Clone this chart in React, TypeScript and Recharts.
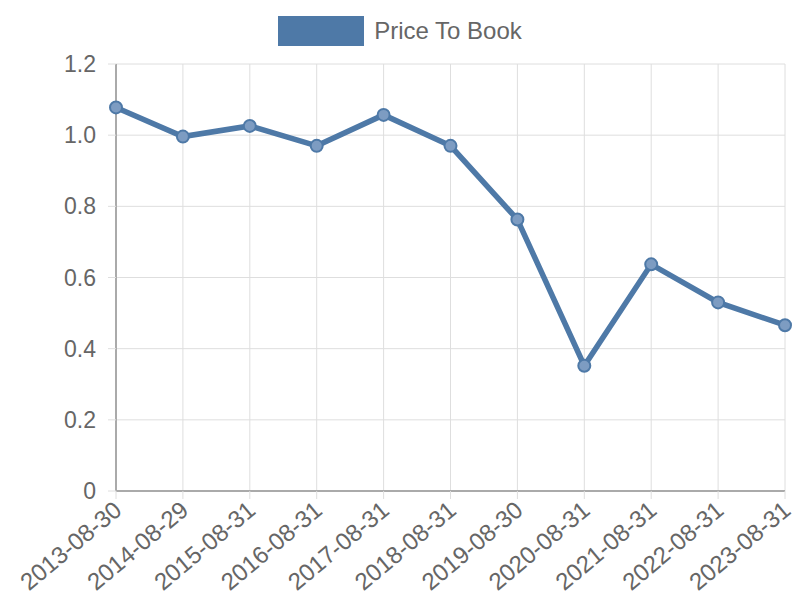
import { LineChart, Line, XAxis, YAxis, CartesianGrid, Legend } from 'recharts';

const dates = ['2013-08-30', '2014-08-29', '2015-08-31', '2016-08-31', '2017-08-31', '2018-08-31', '2019-08-30', '2020-08-31', '2021-08-31', '2022-08-31', '2023-08-31'];
const priceToBook = [1.078, 0.996, 1.026, 0.97, 1.057, 0.97, 0.763, 0.352, 0.637, 0.53, 0.466];
const yTicks = [0, 0.2, 0.4, 0.6, 0.8, 1.0, 1.2];

const rows = dates.map((d, i) => ({ date: d, value: priceToBook[i] }));

const FONT = '"Liberation Sans", Arial, sans-serif';
const BLUE = '#4e79a7';

function XTick(props: any) {
  const { x, y, payload } = props;
  return (
    <text x={x} y={y} transform={`rotate(-40, ${x}, ${y})`} textAnchor="end" dominantBaseline="central"
      fill="#666" fontSize={24} fontFamily={FONT} dx={-2} dy={5}>
      {payload.value}
    </text>
  );
}

function LegendBox() {
  return (
    <div style={{ display: 'flex', justifyContent: 'center', alignItems: 'center', fontFamily: FONT }}>
      <div style={{ width: 86, height: 30, background: BLUE, marginRight: 10 }} />
      <span style={{ fontSize: 24, color: '#666' }}>Price To Book</span>
    </div>
  );
}

export default function App() {
  return (
    <div>
      <style>{'body{margin:0}'}</style>
      <LineChart width={800} height={600} data={rows} margin={{ top: 16, right: 15, left: 56, bottom: 9 }}>
        <Legend verticalAlign="top" content={<LegendBox />} wrapperStyle={{ paddingBottom: 18, left: 0, width: 800 }} />
        <CartesianGrid stroke="#dedede" strokeWidth={1} />
        <XAxis dataKey="date" padding={{ left: 0, right: 0 }} height={100} interval={0}
          tick={<XTick />} tickSize={8} tickLine={{ stroke: '#dedede' }} axisLine={{ stroke: '#aaa', strokeWidth: 2 }} />
        <YAxis domain={[0, 1.2]} ticks={yTicks} width={60} tickSize={8}
          tickFormatter={(v: number) => (v === 0 ? '0' : v.toFixed(1))}
          tick={{ fill: '#666', fontSize: 23, fontFamily: FONT, dx: -10 }}
          tickLine={{ stroke: '#dedede' }} axisLine={{ stroke: '#aaa', strokeWidth: 2 }} />
        <Line dataKey="value" stroke={BLUE} strokeWidth={5.5} type="linear" isAnimationActive={false}
          dot={{ r: 6, fill: '#7d9cc2', stroke: BLUE, strokeWidth: 2 }} activeDot={false} />
      </LineChart>
    </div>
  );
}
